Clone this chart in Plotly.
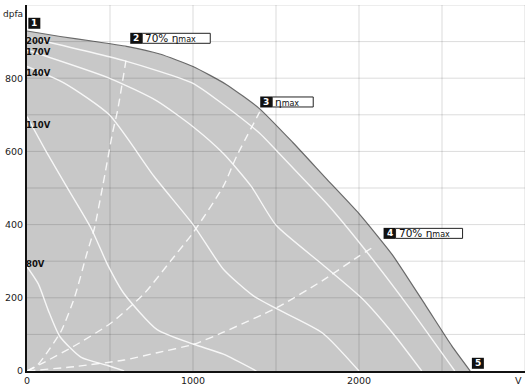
import plotly.graph_objects as go

# ---- data ----
env_x = [0, 200, 400, 600, 800, 1000, 1200, 1400, 1600, 1800, 2000, 2200, 2400, 2560, 2670]
env_y = [929, 914, 901, 887, 866, 832, 783, 717, 625, 527, 430, 318, 180, 68, 0]

v200_x = [0, 585, 1000, 1183, 1400, 1501, 1780, 1840, 2039, 2298, 2577]
v200_y = [912, 848, 786, 728, 650, 603, 470, 440, 330, 176, 0]

v170_x = [0, 502, 782, 1004, 1183, 1350, 1501, 1780, 2019, 2218, 2378]
v170_y = [877, 799, 738, 666, 594, 505, 398, 291, 198, 95, 0]

v140_x = [0, 227, 496, 765, 1004, 1183, 1362, 1500, 1780, 2000]
v140_y = [832, 786, 700, 532, 398, 278, 206, 171, 104, 0]

v110_x = [0, 115, 237, 386, 486, 585, 784, 1004, 1183, 1382]
v110_y = [695, 600, 505, 390, 290, 211, 113, 73, 46, 0]

v80_x = [0, 68, 127, 197, 327, 486, 585]
v80_y = [285, 238, 167, 95, 37, 15, 0]

eff2_x = [0, 60, 108, 207, 287, 360, 406, 456, 516, 545, 596]
eff2_y = [0, 15, 42, 110, 202, 320, 390, 505, 652, 710, 848]

eff3_x = [0, 88, 287, 506, 705, 864, 1004, 1183, 1262, 1402]
eff3_y = [0, 20, 69, 131, 211, 300, 380, 505, 586, 708]

eff4_x = [0, 287, 585, 784, 1004, 1183, 1500, 1780, 2000, 2090]
eff4_y = [0, 12, 30, 50, 73, 106, 172, 247, 314, 340]

speed_labels = ["200V", "170V", "140V", "110V", "80V"]
speed_label_y = [901, 872, 813, 671, 291]

point_ids = ["1", "2", "3", "4", "5"]
point_text = ["", "70% η<span style='font-size:8px'>max</span>", "η<span style='font-size:8px'>max</span>",
              "70% η<span style='font-size:8px'>max</span>", ""]
point_x = [8, 622, 1405, 2148, 2680]
point_y = [935, 894, 720, 361, 6]
point_box_w = [0, 68, 41, 67, 0]

y_ticks = [0, 200, 400, 600, 800]
x_ticks = [0, 1000, 2000]

FONT = "DejaVu Sans"
fig = go.Figure()

# envelope fill
fig.add_trace(go.Scatter(x=env_x, y=env_y, mode="lines", fill="tozeroy",
                         fillcolor="#c8c8c8", line=dict(color="#6a6a6a", width=1.2, shape="spline", smoothing=0.5),
                         hoverinfo="skip", showlegend=False))

# grid drawn over the fill
gx, gy = [], []
for v in range(500, 3001, 500):
    gx += [v, v, None]; gy += [0, 1000, None]
for h in range(100, 1001, 100):
    gx += [0, 3000, None]; gy += [h, h, None]
fig.add_trace(go.Scatter(x=gx, y=gy, mode="lines", line=dict(color="rgba(0,0,0,0.14)", width=1),
                         hoverinfo="skip", showlegend=False))

for xs, ys in [(v200_x, v200_y), (v170_x, v170_y), (v140_x, v140_y), (v110_x, v110_y), (v80_x, v80_y)]:
    fig.add_trace(go.Scatter(x=xs, y=ys, mode="lines",
                             line=dict(color="rgba(255,255,255,0.85)", width=1.4, shape="spline", smoothing=0.6),
                             hoverinfo="skip", showlegend=False))
for xs, ys in [(eff2_x, eff2_y), (eff3_x, eff3_y), (eff4_x, eff4_y)]:
    fig.add_trace(go.Scatter(x=xs, y=ys, mode="lines",
                             line=dict(color="rgba(255,255,255,0.85)", width=1.4, dash="8px,5px",
                                       shape="spline", smoothing=0.6),
                             hoverinfo="skip", showlegend=False))

annotations = []
shapes = []
for lab, yv in zip(speed_labels, speed_label_y):
    annotations.append(dict(x=0, y=yv, xref="x", yref="y", text="<b>" + lab + "</b>", showarrow=False,
                            xanchor="left", yanchor="middle", xshift=-3,
                            font=dict(family=FONT, size=8.5, color="#111")))

for pid, txt, px_, py_, bw in zip(point_ids, point_text, point_x, point_y, point_box_w):
    shapes.append(dict(type="rect", xref="x", yref="y", xsizemode="pixel", ysizemode="pixel",
                       xanchor=px_, yanchor=py_, x0=0, x1=12, y0=0, y1=11,
                       fillcolor="#111", line=dict(width=0), layer="above"))
    annotations.append(dict(x=px_, y=py_, xref="x", yref="y", text="<b>" + pid + "</b>", showarrow=False,
                            xanchor="center", yanchor="middle", xshift=6, yshift=5.5,
                            font=dict(family=FONT, size=9, color="white")))
    if bw:
        shapes.append(dict(type="rect", xref="x", yref="y", xsizemode="pixel", ysizemode="pixel",
                           xanchor=px_, yanchor=py_, x0=12, x1=12 + bw, y0=0.5, y1=10.5,
                           fillcolor="white", line=dict(width=1, color="#222"), layer="above"))
        annotations.append(dict(x=px_, y=py_, xref="x", yref="y", text=txt, showarrow=False,
                                xanchor="left", yanchor="middle", xshift=13, yshift=5.5,
                                font=dict(family=FONT, size=10.5, color="#111")))

annotations.append(dict(x=0, y=1, xref="paper", yref="paper", text="dpfa", showarrow=False,
                        xanchor="right", yanchor="middle", xshift=-2, yshift=-9,
                        font=dict(family=FONT, size=9, color="#222")))
annotations.append(dict(x=1, y=0, xref="paper", yref="paper", text="V", showarrow=False,
                        xanchor="center", yanchor="top", xshift=-7, yshift=-2,
                        font=dict(family=FONT, size=9.5, color="#222")))

fig.update_layout(
    width=530, height=391,
    margin=dict(l=22, r=5, t=5, b=12),
    paper_bgcolor="white", plot_bgcolor="white",
    showlegend=False,
    shapes=shapes, annotations=annotations,
    xaxis=dict(range=[0, 3000], tickvals=x_ticks, showgrid=False, zeroline=False,
               showline=True, linecolor="#111", linewidth=2, ticks="",
               tickfont=dict(family=FONT, size=9.5, color="#222"), fixedrange=True),
    yaxis=dict(range=[0, 1000], tickvals=y_ticks, showgrid=False, zeroline=False,
               showline=True, linecolor="#111", linewidth=2, ticks="",
               tickfont=dict(family=FONT, size=9.5, color="#222"), fixedrange=True),
)

fig.write_html("out.html")
